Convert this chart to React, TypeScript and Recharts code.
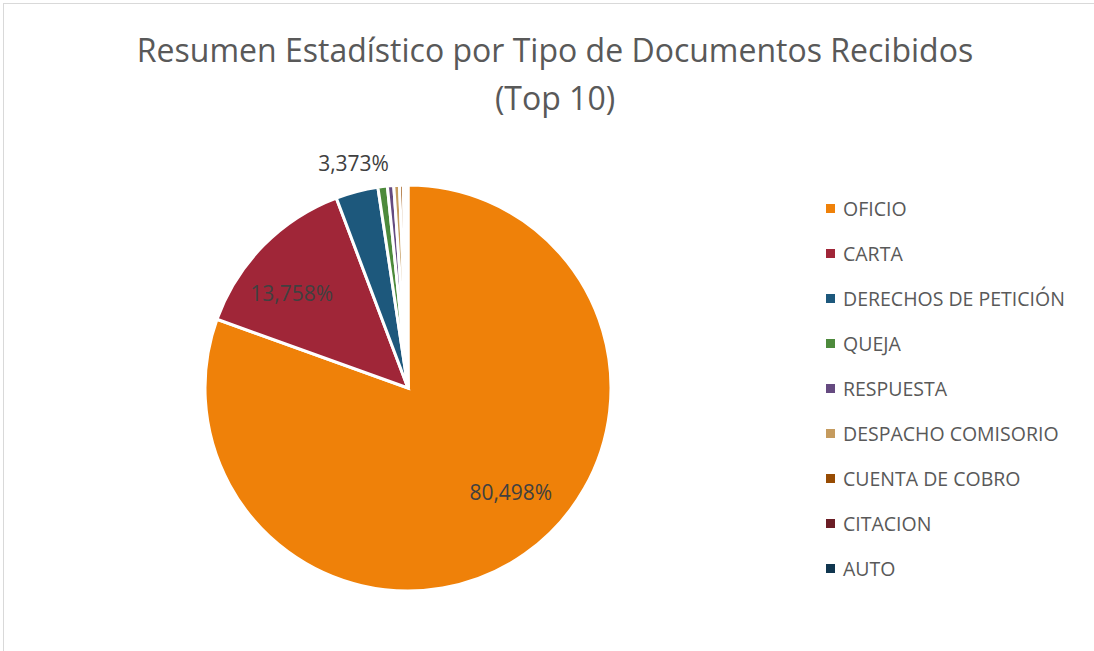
import { PieChart, Pie, Cell, Legend } from "recharts";

const TIPOS = [
  "OFICIO",
  "CARTA",
  "DERECHOS DE PETICIÓN",
  "QUEJA",
  "RESPUESTA",
  "DESPACHO COMISORIO",
  "CUENTA DE COBRO",
  "CITACION",
  "AUTO",
];

const PORCENTAJES = [80.498, 13.758, 3.373, 0.75, 0.5, 0.45, 0.3, 0.2, 0.171];

const COLORS = [
  "#ef8109",
  "#a02638",
  "#1d587c",
  "#4d8a3c",
  "#654a80",
  "#c59b5e",
  "#974c03",
  "#6b1d25",
  "#10364f",
];

// only the three biggest slices carry a label (Excel "best fit" placement)
const LABEL_RADIUS = [0.72, 0.74, 1.14];
const LABEL_SHIFT = [9.6, 5.3, -1.0];

const FONT = "'Open Sans', sans-serif";
const RAD = Math.PI / 180;

const data = TIPOS.map((name, i) => ({ name, value: PORCENTAJES[i] }));

function fmt(v: number): string {
  return v.toFixed(3).replace(".", ",") + "%";
}

function renderLabel(props: any) {
  const { cx, cy, midAngle, outerRadius, index, value } = props;
  if (index >= LABEL_RADIUS.length) return null;
  const r = outerRadius * LABEL_RADIUS[index];
  const a = (midAngle + LABEL_SHIFT[index]) * RAD;
  const x = cx + r * Math.cos(-a);
  const y = cy + r * Math.sin(-a);
  return (
    <text
      x={x}
      y={y}
      textAnchor="middle"
      dominantBaseline="central"
      fill="#404040"
      fontSize={21}
      fontFamily={FONT}
    >
      {fmt(value)}
    </text>
  );
}

function LegendList() {
  return (
    <div style={{ fontFamily: FONT }}>
      {data.map((d, i) => (
        <div key={d.name} style={{ display: "flex", alignItems: "center", height: 45 }}>
          <span style={{ width: 9, height: 9, background: COLORS[i], marginRight: 8 }} />
          <span style={{ fontSize: 19.5, color: "#595959" }}>{d.name}</span>
        </div>
      ))}
    </div>
  );
}

export default function App() {
  return (
    <div
      style={{
        position: "fixed",
        left: 0,
        top: 0,
        width: 1094,
        height: 651,
        background: "#fff",
      }}
    >
      <div
        style={{
          position: "absolute",
          left: 3,
          top: 3,
          width: 1100,
          height: 660,
          border: "1px solid #d9d9d9",
          boxSizing: "border-box",
        }}
      />
      <div
        style={{
          position: "absolute",
          left: 0,
          top: 26,
          width: 1110,
          textAlign: "center",
          fontFamily: FONT,
          fontSize: 32,
          lineHeight: "48px",
          color: "#595959",
        }}
      >
        Resumen Estadístico por Tipo de Documentos Recibidos
        <br />
        (Top 10)
      </div>
      <PieChart
        width={1094}
        height={651}
        margin={{ top: 0, right: 0, bottom: 0, left: 0 }}
        style={{ position: "absolute", left: 0, top: 0 }}
      >
        <Pie
          data={data}
          dataKey="value"
          nameKey="name"
          cx={408}
          cy={388}
          outerRadius={203}
          startAngle={90}
          endAngle={-270}
          stroke="#fff"
          strokeWidth={3}
          label={renderLabel}
          labelLine={false}
          isAnimationActive={false}
        >
          {data.map((_, i) => (
            <Cell key={i} fill={COLORS[i]} />
          ))}
        </Pie>
        <Legend
          layout="vertical"
          align="right"
          verticalAlign="top"
          content={<LegendList />}
          wrapperStyle={{ left: 826, top: 186, width: 268 }}
        />
      </PieChart>
    </div>
  );
}
